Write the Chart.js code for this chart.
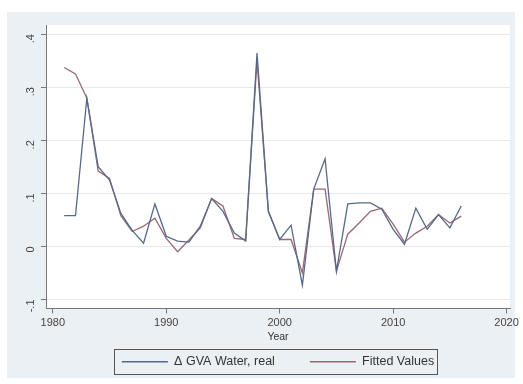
<!DOCTYPE html>
<html>
<head>
<meta charset="utf-8">
<script src="https://cdn.jsdelivr.net/npm/chart.js@4.4.1/dist/chart.umd.min.js"></script>
<style>
  html, body { margin: 0; padding: 0; background: #fff; }
  #wrap { width: 523px; height: 384px; }
</style>
</head>
<body>
<div id="wrap"><canvas id="chart" width="523" height="384"></canvas></div>
<script>
// Data
const years = [1981, 1982, 1983, 1984, 1985, 1986, 1987, 1988, 1989, 1990,
  1991, 1992, 1993, 1994, 1995, 1996, 1997, 1998, 1999, 2000,
  2001, 2002, 2003, 2004, 2005, 2006, 2007, 2008, 2009, 2010,
  2011, 2012, 2013, 2014, 2015, 2016];
const gvaWater = [0.058, 0.058, 0.279, 0.150, 0.125, 0.062, 0.030, 0.006, 0.080, 0.019,
  0.010, 0.008, 0.038, 0.090, 0.066, 0.025, 0.010, 0.364, 0.066, 0.013,
  0.040, -0.073, 0.108, 0.165, -0.047, 0.080, 0.082, 0.082, 0.070, 0.032,
  0.004, 0.072, 0.032, 0.060, 0.035, 0.076];
const fitted = [0.337, 0.325, 0.279, 0.142, 0.128, 0.058, 0.028, 0.038, 0.053, 0.015,
  -0.010, 0.012, 0.035, 0.090, 0.076, 0.015, 0.013, 0.350, 0.066, 0.013,
  0.013, -0.050, 0.108, 0.108, -0.047, 0.023, 0.044, 0.066, 0.072, 0.042,
  0.008, 0.025, 0.038, 0.060, 0.044, 0.057];
const xTicks = [1980, 1990, 2000, 2010, 2020];
const yTicks = [-0.1, 0, 0.1, 0.2, 0.3, 0.4];
const seriesNames = ['\u0394 GVA Water, real', 'Fitted Values'];

const toPoints = vals => years.map((yr, i) => ({ x: yr, y: vals[i] }));
const fmtY = v => {
    if (Math.abs(v) < 1e-9) return '0';
    return (v < 0 ? '-' : '') + Math.abs(v).toFixed(1).replace(/^0/, '');
};
const FONT = "'Liberation Sans', Arial, sans-serif";

// stata-like backgrounds: light bluish graph region, white plot region, boxed legend
const stataBg = {
    id: 'stataBg',
    beforeDraw(chart) {
        const ctx = chart.ctx;
        const a = chart.chartArea;
        ctx.save();
        ctx.fillStyle = '#eaf0f3';
        ctx.fillRect(7, 12, 508, 366);
        ctx.fillStyle = '#ffffff';
        ctx.fillRect(a.left, a.top, a.right - a.left, a.bottom - a.top);
        ctx.restore();
    },
    afterDraw(chart) {
        const boxes = chart.legend && chart.legend.legendHitBoxes;
        if (!boxes || !boxes.length) return;
        const ctx = chart.ctx;
        const left = Math.min(...boxes.map(b => b.left)) - 8;
        const right = Math.max(...boxes.map(b => b.left + b.width)) + 3;
        const cy = boxes[0].top + boxes[0].height / 2;
        ctx.save();
        ctx.strokeStyle = '#555';
        ctx.lineWidth = 1;
        ctx.strokeRect(Math.round(left) + 0.5, Math.round(cy - 12.5) + 0.5, Math.round(right - left), 25);
        ctx.restore();
    }
};

new Chart(document.getElementById('chart'), {
    type: 'line',
    data: {
        datasets: [{
            label: seriesNames[0],
            data: toPoints(gvaWater),
            borderColor: '#56698a',
            borderWidth: 1.3,
            pointRadius: 0,
            pointStyle: 'line',
            tension: 0
        }, {
            label: seriesNames[1],
            data: toPoints(fitted),
            borderColor: '#986870',
            borderWidth: 1.3,
            pointRadius: 0,
            pointStyle: 'line',
            tension: 0
        }]
    },
    plugins: [stataBg],
    options: {
        responsive: false,
        animation: false,
        layout: { padding: { left: 7, right: 13, top: 25, bottom: 6 } },
        plugins: {
            tooltip: { enabled: false },
            legend: {
                position: 'bottom',
                fullSize: false,
                labels: {
                    usePointStyle: true,
                    pointStyleWidth: 46,
                    padding: 10,
                    color: '#333',
                    font: { size: 12.5, family: FONT },
                    // a little extra room after the first entry, like the stata key
                    generateLabels: chart => Chart.defaults.plugins.legend.labels.generateLabels(chart)
                        .map((l, i) => i === 0 ? Object.assign(l, { text: l.text + '\u2003\u2003' }) : l)
                }
            }
        },
        scales: {
            x: {
                type: 'linear',
                min: 1979.4,
                max: 2020.3,
                afterBuildTicks: s => { s.ticks = xTicks.map(v => ({ value: v })); },
                afterFit: s => { s.height = 37; },
                ticks: {
                    color: '#444',
                    padding: 3,
                    font: { size: 11, family: FONT },
                    callback: v => String(v)
                },
                grid: { drawOnChartArea: false, tickLength: 5, tickColor: '#777' },
                border: { color: '#777' },
                title: {
                    display: true,
                    text: 'Year',
                    color: '#333',
                    padding: { top: 0, bottom: 2 },
                    font: { size: 10.5, family: FONT }
                }
            },
            y: {
                min: -0.117,
                max: 0.417,
                afterBuildTicks: s => { s.ticks = yTicks.map(v => ({ value: v })); },
                afterFit: s => { s.width = 39; },
                ticks: {
                    color: '#444',
                    minRotation: 90,
                    maxRotation: 90,
                    padding: 10,
                    font: { size: 11, family: FONT },
                    callback: v => fmtY(v)
                },
                grid: { color: '#e3ebee', tickLength: 5, tickColor: '#777' },
                border: { color: '#777' }
            }
        }
    }
});
</script>
</body>
</html>
